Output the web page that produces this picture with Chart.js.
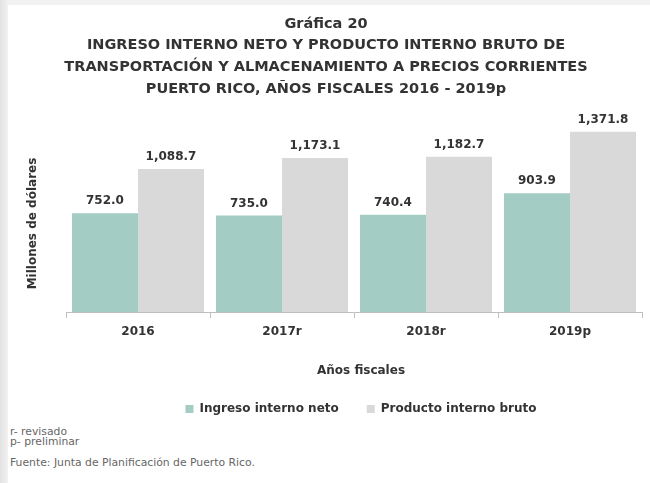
<!DOCTYPE html>
<html>
<head>
<meta charset="utf-8">
<script src="https://cdn.jsdelivr.net/npm/chart.js@4"></script>
<style>
  html, body { margin: 0; padding: 0; }
  body { width: 650px; height: 483px; background: linear-gradient(to right, #e2e2e2, #f2f2f2 8px); position: relative; overflow: hidden; }
  #card { position: absolute; left: 8px; top: 5px; width: 642px; height: 478px; background: #fff; }
  #wrap { position: absolute; left: 0; top: 0; width: 642px; height: 420px; }
  .note { position: absolute; left: 2px; font-family: "DejaVu Sans", sans-serif; font-size: 10.8px; color: #666; line-height: 10px; }
</style>
</head>
<body>
<div id="card">
  <div id="wrap"><canvas id="chart"></canvas></div>
  <div class="note" style="top:422px">r- revisado<br>p- preliminar</div>
  <div class="note" style="top:453px">Fuente: Junta de Planificación de Puerto Rico.</div>
</div>
<script>
// Chart data
const years = ["2016", "2017r", "2018r", "2019p"];
const ingresoNeto = [752.0, 735.0, 740.4, 903.9];
const productoBruto = [1088.7, 1173.1, 1182.7, 1371.8];

const titleLines = [
  "Gráfica 20",
  "INGRESO INTERNO NETO Y PRODUCTO INTERNO BRUTO DE",
  "TRANSPORTACIÓN Y ALMACENAMIENTO A PRECIOS CORRIENTES",
  "PUERTO RICO, AÑOS FISCALES 2016 - 2019p"
];
const xTitle = "Años fiscales";
const yTitle = "Millones de dólares";

const fontFamily = "'DejaVu Sans', sans-serif";
const textColor = "#333";

// value labels above bars + axis titles (drawn by hand so they sit where the original has them)
const extras = {
  id: "extras",
  afterLayout(chart) {
    // legend in the original sits a bit right of the plot center
    const lg = chart.legend;
    const shift = (chart.chartArea.left + chart.chartArea.right) / 2 + 7 - (lg.left + lg.right) / 2;
    lg.left += shift;
    lg.right += shift;
    // title is centered on the whole card, not on the plot
    const tb = chart.titleBlock;
    const tshift = 318 - (tb.left + tb.right) / 2;
    tb.left += tshift;
    tb.right += tshift;
  },
  afterDatasetsDraw(chart) {
    const ctx = chart.ctx;
    const area = chart.chartArea;
    ctx.save();
    ctx.font = "bold 12px " + fontFamily;
    ctx.fillStyle = textColor;
    ctx.textAlign = "center";
    ctx.textBaseline = "middle";
    chart.data.datasets.forEach((ds, i) => {
      chart.getDatasetMeta(i).data.forEach((bar, j) => {
        const txt = ds.data[j].toLocaleString("en-US", { minimumFractionDigits: 1, maximumFractionDigits: 1 });
        ctx.fillText(txt, bar.x, bar.y - 12);
      });
    });

    // x axis title
    ctx.fillText(xTitle, (area.left + area.right) / 2 + 7, area.bottom + 59);

    // y axis title
    ctx.translate(25, (area.top + area.bottom) / 2 + 10);
    ctx.rotate(-Math.PI / 2);
    ctx.fillText(yTitle, 0, 0);
    ctx.restore();
  }
};

const ctx = document.getElementById("chart").getContext("2d");
new Chart(ctx, {
  type: "bar",
  data: {
    labels: years,
    datasets: [
      {
        label: "Ingreso interno neto",
        data: ingresoNeto,
        backgroundColor: "rgb(163, 205, 196)",
      },
      {
        label: "Producto interno bruto",
        data: productoBruto,
        backgroundColor: "rgb(217, 217, 217)",
      }
    ]
  },
  options: {
    responsive: true,
    maintainAspectRatio: false,
    animation: false,
    categoryPercentage: 0.917,
    barPercentage: 1.0,
    layout: { padding: { left: 58, right: 8, top: 0, bottom: 0 } },
    plugins: {
      title: {
        display: true,
        text: titleLines,
        color: textColor,
        font: { family: fontFamily, size: 14.5, weight: "bold", lineHeight: 1.5 },
        padding: { top: 8, bottom: 15 }
      },
      legend: {
        position: "bottom",
        labels: {
          boxWidth: 8,
          boxHeight: 8,
          color: textColor,
          font: { family: fontFamily, size: 12, weight: "bold" },
          padding: 28
        }
      },
      tooltip: { enabled: false }
    },
    scales: {
      x: {
        grid: { display: true, offset: true, drawOnChartArea: false, tickLength: 6, color: "#bfbfbf" },
        border: { color: "#bfbfbf" },
        ticks: { color: textColor, font: { family: fontFamily, size: 12, weight: "bold" }, padding: 7 },
        afterFit(scale) { scale.height = 63; }
      },
      y: {
        display: false,
        min: 0,
        max: 1500
      }
    }
  },
  plugins: [extras]
});
</script>
</body>
</html>
